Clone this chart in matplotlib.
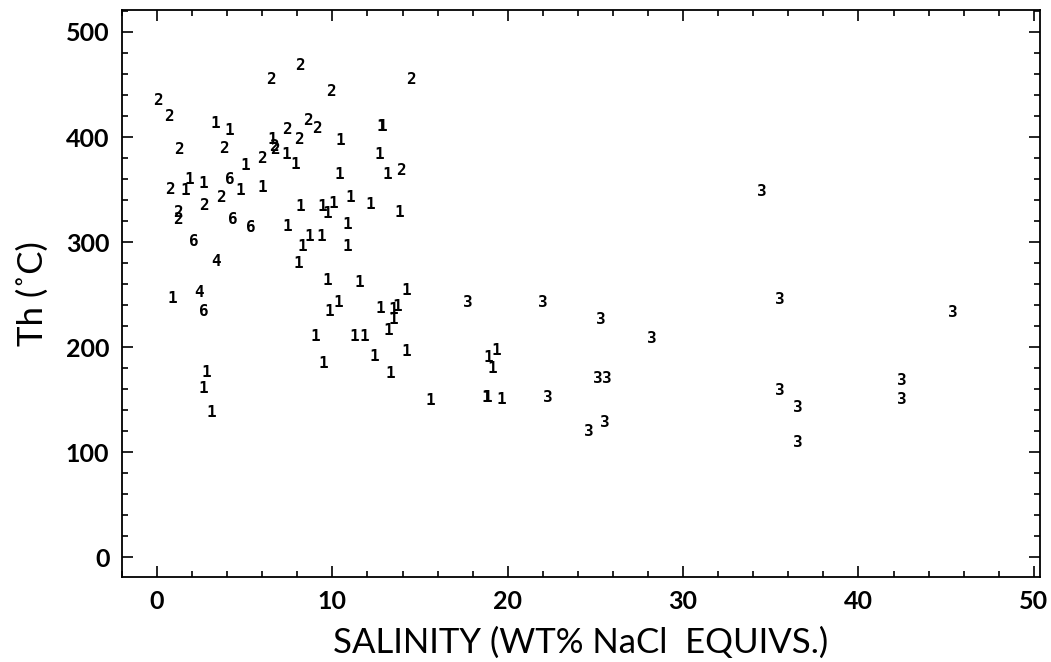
import matplotlib
matplotlib.use("Agg")
import matplotlib.pyplot as plt
from matplotlib.ticker import MultipleLocator

# ---- data (salinity wt% NaCl equiv, homogenization temperature °C) by inclusion type ----
sal_1 = [3.3, 4.1, 6.6, 7.4, 7.9, 5.05, 4.77, 6.0, 1.84, 1.6, 2.65, 7.45,
         10.45, 12.8, 12.85, 12.7, 10.4, 13.15, 8.2, 9.4, 9.7, 10.05, 11.0,
         12.15, 13.8, 10.85, 8.7, 9.35, 8.3, 10.85, 8.05, 9.7, 11.55, 14.2,
         10.35, 9.8, 12.75, 13.45, 13.7, 13.45, 13.2, 9.0, 11.23, 11.85, 12.4,
         14.2, 9.5, 13.3, 15.6, 0.9, 2.84, 2.65, 3.12, 19.37, 18.9, 19.13,
         18.8, 18.85, 19.65]
th_1 = [413, 406, 398, 383, 374, 373, 349, 352, 360, 349, 356, 315,
        397, 410, 410, 383, 364, 364, 334, 334, 327, 337, 342,
        336, 328, 317, 305, 305, 296, 296, 280, 263, 262, 254,
        243, 234, 237, 236, 239, 226, 216, 210, 210, 210, 191,
        196, 184, 175, 149, 246, 176, 161, 138, 197, 190, 180,
        152, 152, 150]

sal_2 = [0.07, 0.7, 1.27, 3.8, 6.5, 8.15, 9.9, 14.46, 7.43, 6.65, 6.7, 6.0,
         0.74, 2.67, 3.66, 1.2, 1.2, 8.6, 9.14, 8.1, 13.9]
th_2 = [435, 420, 388, 389, 455, 468, 443, 455, 407, 391, 388, 380,
        350, 335, 342, 328, 322, 416, 408, 398, 368]

sal_3 = [17.75, 21.99, 25.3, 28.2, 25.16, 25.67, 22.3, 24.65, 25.55, 34.5,
         35.5, 45.4, 35.5, 36.55, 42.45, 42.45, 36.55]
th_3 = [243, 243, 226, 208, 170, 170, 152, 120, 128, 348,
        245, 233, 159, 143, 168, 150, 109]

sal_4 = [3.35, 2.4]
th_4 = [282, 252]

sal_6 = [4.16, 4.35, 5.37, 2.1, 2.65]
th_6 = [360, 322, 314, 301, 234]

groups = [("1", sal_1, th_1), ("2", sal_2, th_2), ("3", sal_3, th_3),
          ("4", sal_4, th_4), ("6", sal_6, th_6)]

x_label = "SALINITY (WT% NaCl  EQUIVS.)"
y_label = "Th (˚C)"

# ---- figure ----
fig = plt.figure(figsize=(10.51, 6.62), dpi=100)
ax = fig.add_axes([0.116, 0.128, 0.8735, 0.857])

for label, xs, ys in groups:
    for x, y in zip(xs, ys):
        ax.text(x, y, label, ha="center", va="center", fontsize=11.5,
                fontweight="bold", family="DejaVu Sans Mono", color="black")

ax.set_xlim(-2.0, 50.35)
ax.set_ylim(-19, 521)
ax.xaxis.set_major_locator(MultipleLocator(10))
ax.xaxis.set_minor_locator(MultipleLocator(2))
ax.yaxis.set_major_locator(MultipleLocator(100))
ax.yaxis.set_minor_locator(MultipleLocator(20))

ax.tick_params(which="both", direction="in", top=True, right=True,
               width=1.2, colors="black")
ax.tick_params(which="major", length=8, pad=9)
ax.tick_params(which="minor", length=4)
for sp in ax.spines.values():
    sp.set_linewidth(1.3)

for lab in ax.get_xticklabels() + ax.get_yticklabels():
    lab.set_fontfamily("Lato")
    lab.set_fontweight("bold")
    lab.set_fontsize(18)

ax.set_xlabel(x_label, fontsize=25, family="Lato", fontweight="normal",
              color="black", labelpad=10)
ax.set_ylabel(y_label, fontsize=25, family="Lato", fontweight="normal",
              color="black", labelpad=12)

fig.savefig("out.png", dpi=100)
